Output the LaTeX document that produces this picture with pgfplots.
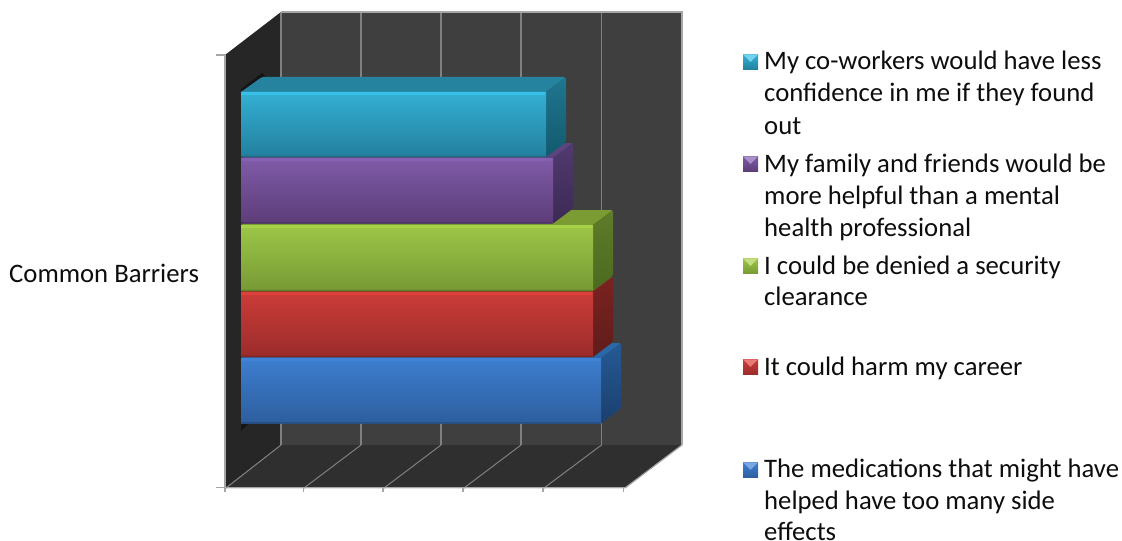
\documentclass[border=0pt]{standalone}
\usepackage{fontspec}
\setmainfont{Carlito}
\usepackage{pgfplots}
\pgfplotsset{compat=1.18}

\definecolor{backwall}{HTML}{3F3F3F}
\definecolor{sidewall}{HTML}{262626}
\definecolor{floorc}{HTML}{2F2F2F}
\definecolor{gridc}{HTML}{808080}
\definecolor{edgec}{HTML}{A6A6A6}

% front top, front bottom, highlight, top face, side top, side bottom
\definecolor{bluefa}{HTML}{3D7ECF}\definecolor{bluefb}{HTML}{2D5E9E}\definecolor{bluehl}{HTML}{3F82D6}
\definecolor{bluetp}{HTML}{2B68A8}\definecolor{bluesa}{HTML}{255A95}\definecolor{bluesb}{HTML}{1B3F6E}
\definecolor{redfa}{HTML}{CC3C39}\definecolor{redfb}{HTML}{9A2C2A}\definecolor{redhl}{HTML}{E0403C}
\definecolor{redtp}{HTML}{8A2A28}\definecolor{redsa}{HTML}{7A2320}\definecolor{redsb}{HTML}{601C1A}
\definecolor{greenfa}{HTML}{9DC647}\definecolor{greenfb}{HTML}{779A35}\definecolor{greenhl}{HTML}{A6D14B}
\definecolor{greentp}{HTML}{7A9C33}\definecolor{greensa}{HTML}{5F7C2A}\definecolor{greensb}{HTML}{4C6A20}
\definecolor{purpfa}{HTML}{7F5BA8}\definecolor{purpfb}{HTML}{5C3D78}\definecolor{purphl}{HTML}{8660B2}
\definecolor{purptp}{HTML}{5B4580}\definecolor{purpsa}{HTML}{513A70}\definecolor{purpsb}{HTML}{3C2A54}
\definecolor{cyanfa}{HTML}{33B0D4}\definecolor{cyanfb}{HTML}{237F9E}\definecolor{cyanhl}{HTML}{3ABFE8}
\definecolor{cyantp}{HTML}{25839F}\definecolor{cyansa}{HTML}{1F7690}\definecolor{cyansb}{HTML}{125A6E}

% one 3D bar: x end, y top, y bottom, colour prefix
\newcommand{\threedbar}[4]{
  \pgfmathsetmacro{\xb}{#1+20}
  \pgfmathsetmacro{\ytb}{#2-15}
  \pgfmathsetmacro{\ybb}{#3-15}
  \pgfmathsetmacro{\yh}{#2+3}
  \pgfmathsetmacro{\xd}{#1-2}
  \pgfmathsetmacro{\yd}{#3-1.5}
  \addplot[draw=none, fill=#4tp, rounded corners=1.5pt] coordinates {(241,#2) (262,\ytb) (\xb,\ytb) (#1,#2)};
  \addplot[draw=none, top color=#4sa, bottom color=#4sb, rounded corners=2pt] coordinates {(#1,#2) (\xb,\ytb) (\xb,\ybb) (#1,#3)};
  \addplot[draw=none, top color=#4fa, bottom color=#4fb, rounded corners=1pt] coordinates {(241,#2) (#1,#2) (#1,#3) (241,#3)};
  \addplot[draw=none, fill=#4hl] coordinates {(241,#2) (#1,#2) (\xd,\yh) (241,\yh)};
  \addplot[draw=none, fill=#4fb!85!black] coordinates {(241,\yd) (\xd,\yd) (#1,#3) (241,#3)};
}

% legend marker: y centre, colour prefix
\newcommand{\legmark}[2]{
  \pgfmathsetmacro{\ya}{#1-7.7}
  \pgfmathsetmacro{\yb}{#1+7.7}
  \addplot[draw=none, top color=#2fa, bottom color=#2fb] coordinates {(743,\ya) (758,\ya) (758,\yb) (743,\yb)};
  \addplot[draw=none, fill=#2hl!70!white] coordinates {(743,\ya) (758,\ya) (750.5,#1)};
}

\begin{document}
\begin{tikzpicture}
\useasboundingbox (0,0) rectangle (1122bp,541bp);
\begin{axis}[
  at={(0,0)}, anchor=south west,
  scale only axis,
  width=1122bp, height=541bp,
  xmin=0, xmax=1122,
  ymin=0, ymax=541,
  y dir=reverse,
  hide axis,
  clip=false
]
  % walls and floor
  \addplot[draw=none, fill=backwall] coordinates {(281,12) (682,12) (682,445) (281,445)};
  \addplot[draw=none, fill=sidewall] coordinates {(225,55) (281,12) (281,445) (225,488)};
  \addplot[draw=none, fill=floorc] coordinates {(225,488) (281,445) (682,445) (625,488)};

  % gridlines on the back wall
  \addplot[gridc, line width=1.2bp] coordinates {(281,12) (281,445)};
  \addplot[gridc, line width=1.2bp] coordinates {(361,12) (361,445)};
  \addplot[gridc, line width=1.2bp] coordinates {(441,12) (441,445)};
  \addplot[gridc, line width=1.2bp] coordinates {(521,12) (521,445)};
  \addplot[gridc, line width=1.2bp] coordinates {(601.5,12) (601.5,445)};
  \addplot[edgec, line width=1.2bp] coordinates {(682,445) (682,12) (281,12)};

  % gridlines on the floor
  \addplot[gridc, line width=1bp] coordinates {(281,445) (226,488)};
  \addplot[gridc, line width=1bp] coordinates {(361,445) (304,488)};
  \addplot[gridc, line width=1bp] coordinates {(441,445) (384,488)};
  \addplot[gridc, line width=1bp] coordinates {(521,445) (464,488)};
  \addplot[gridc, line width=1bp] coordinates {(601.5,445) (544,488)};

  % front axes and ticks
  \addplot[edgec, line width=1.2bp] coordinates {(225,55) (225,492)};
  \addplot[edgec, line width=1.2bp] coordinates {(216,55) (225,55)};
  \addplot[edgec, line width=1.2bp] coordinates {(216,487.5) (625,487.5)};
  \addplot[edgec, line width=1.2bp] coordinates {(303.5,488) (303.5,492)};
  \addplot[edgec, line width=1.2bp] coordinates {(383,488) (383,492)};
  \addplot[edgec, line width=1.2bp] coordinates {(463,488) (463,492)};
  \addplot[edgec, line width=1.2bp] coordinates {(543,488) (543,492)};
  \addplot[edgec, line width=1.2bp] coordinates {(623.5,488) (623.5,492)};
  \addplot[edgec, line width=1.2bp] coordinates {(625,488) (682,445)};

  % small shadows on the side wall
  \addplot[draw=none, fill=black!45!sidewall] coordinates {(241,92) (241,89) (262,73) (266,77)};
  \addplot[draw=none, fill=black!45!sidewall] coordinates {(241,424) (248,424) (241,431)};

  % bars, lowest first so the upper ones cover it
  \threedbar{601}{358}{423.5}{blue}
  \threedbar{593}{292}{357}{red}
  \threedbar{593}{225}{291}{green}
  \threedbar{553}{158}{223.5}{purp}
  \threedbar{546}{92}{157}{cyan}

  % legend markers
  \legmark{62}{cyan}
  \legmark{164}{purp}
  \legmark{266}{green}
  \legmark{367}{red}
  \legmark{470}{blue}

  % texts
  \begin{scope}[every node/.style={anchor=base west, inner sep=0pt, font=\fontsize{26.7bp}{30bp}\selectfont, text=black!95}]
    \node at (axis cs:9,282) {Common Barriers};
    \node at (axis cs:764,69.5) {My co-workers would have less};
    \node at (axis cs:764,101.5) {confidence in me if they found};
    \node at (axis cs:764,134) {out};
    \node at (axis cs:764,172) {My family and friends would be};
    \node at (axis cs:764,204) {more helpful than a mental};
    \node at (axis cs:764,236) {health professional};
    \node at (axis cs:764,274) {I could be denied a security};
    \node at (axis cs:764,305) {clearance};
    \node at (axis cs:764,375) {It could harm my career};
    \node at (axis cs:764,477) {The medications that might have};
    \node at (axis cs:764,509) {helped have too many side};
    \node at (axis cs:764,540.5) {effects};
  \end{scope}
\end{axis}
\end{tikzpicture}
\end{document}
